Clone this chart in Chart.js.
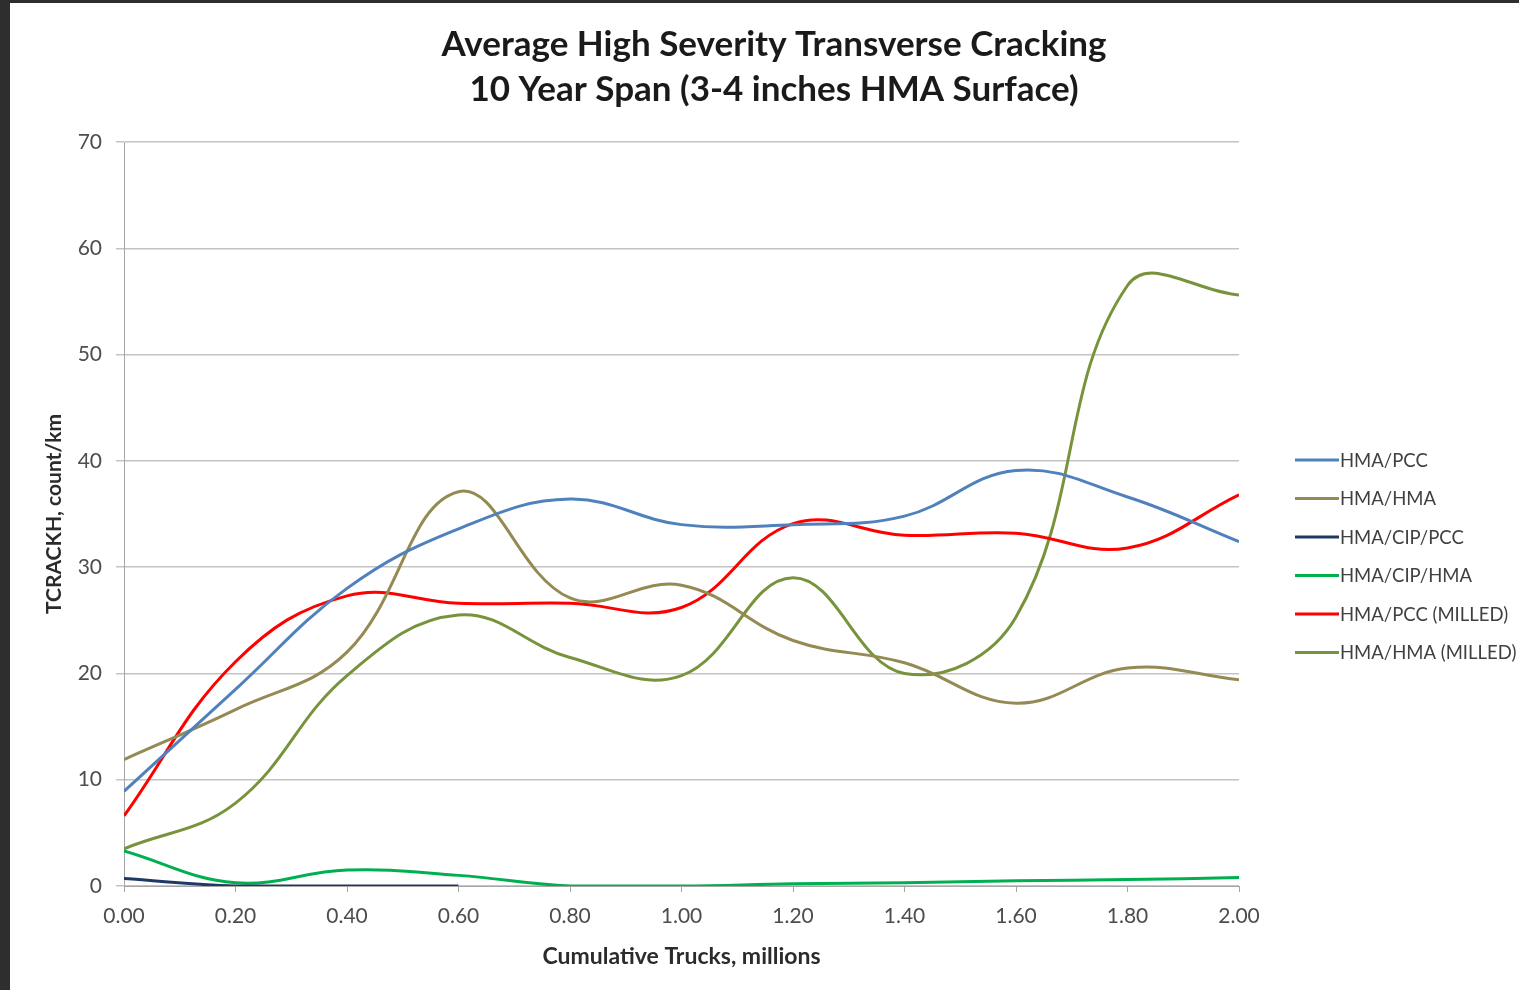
<!DOCTYPE html>
<html>
<head>
<meta charset="utf-8">
<script src="https://cdn.jsdelivr.net/npm/chart.js@4/dist/chart.umd.min.js"></script>
<style>
html,body{margin:0;padding:0;background:#fff;}
#wrap{position:absolute;left:0;top:0;width:1519px;height:990px;}
</style>
</head>
<body>
<div id="wrap"><canvas id="c" width="1519" height="990"></canvas></div>
<script>
const xValues = [0.0, 0.2, 0.4, 0.6, 0.8, 1.0, 1.2, 1.4, 1.6, 1.8, 2.0];
const xTickLabels = ['0.00','0.20','0.40','0.60','0.80','1.00','1.20','1.40','1.60','1.80','2.00'];
const yTickValues = [0, 10, 20, 30, 40, 50, 60, 70];
const seriesNames = ['HMA/PCC','HMA/HMA','HMA/CIP/PCC','HMA/CIP/HMA','HMA/PCC (MILLED)','HMA/HMA (MILLED)'];
const hmaPcc       = [8.9, 18.5, 28.0, 33.6, 36.4, 34.0, 34.0, 34.8, 39.1, 36.6, 32.4];
const hmaHma       = [11.9, 16.6, 22.0, 37.1, 27.1, 28.3, 23.1, 21.0, 17.2, 20.5, 19.4];
const hmaCipPcc    = [0.7, 0.0, 0.0, 0.0];
const hmaCipHma    = [3.3, 0.3, 1.5, 1.0, 0.0, 0.0, 0.2, 0.3, 0.5, 0.6, 0.8];
const hmaPccMilled = [6.6, 21.1, 27.3, 26.6, 26.6, 26.2, 34.1, 33.0, 33.2, 31.8, 36.8];
const hmaHmaMilled = [3.5, 7.8, 19.8, 25.5, 21.5, 19.8, 29.0, 20.0, 25.3, 56.5, 55.6];

const seriesValues = [hmaPcc, hmaHma, hmaCipPcc, hmaCipHma, hmaPccMilled, hmaHmaMilled];
const colors = ['#4F81BD', '#948A54', '#1F3864', '#00B050', '#FF0000', '#77933C'];

const datasets = seriesValues.map((vals, i) => ({
  label: seriesNames[i],
  data: vals.map((v, j) => ({x: xValues[j], y: v})),
  borderColor: colors[i],
  backgroundColor: colors[i],
  borderWidth: 3,
  pointRadius: 0,
  tension: 0.4,
  fill: false
}));

const frameAndTitle = {
  id: 'frameAndTitle',
  beforeDraw(chart) {
    const ctx = chart.ctx;
    ctx.save();
    ctx.fillStyle = '#ffffff';
    ctx.fillRect(0, 0, chart.width, chart.height);
    ctx.restore();
  },
  afterDraw(chart) {
    const ctx = chart.ctx;
    ctx.save();
    ctx.fillStyle = '#2e2e2e';
    ctx.fillRect(0, 0, 10, chart.height);
    ctx.fillRect(0, 0, chart.width, 3);
    ctx.fillStyle = '#1a1a1a';
    ctx.font = 'bold 35px Lato';
    ctx.textAlign = 'center';
    ctx.textBaseline = 'middle';
    ctx.fillText('Average High Severity Transverse Cracking', 774, 45);
    ctx.fillText('10 Year Span (3-4 inches HMA Surface)', 774, 90);
    ctx.font = '18.5px Lato';
    ctx.textAlign = 'left';
    chart.data.datasets.forEach((ds, i) => {
      const y = 460 + i * 38.5;
      ctx.strokeStyle = ds.borderColor;
      ctx.lineWidth = 3;
      ctx.beginPath();
      ctx.moveTo(1295, y);
      ctx.lineTo(1339, y);
      ctx.stroke();
      ctx.fillStyle = '#404040';
      ctx.fillText(ds.label, 1340, y + 1);
    });
    ctx.restore();
  }
};

new Chart(document.getElementById('c'), {
  type: 'line',
  data: { datasets },
  options: {
    responsive: false,
    animation: false,
    layout: { padding: { top: 142, right: 280, left: 0, bottom: 0 } },
    plugins: {
      legend: { display: false },
      title: { display: false },
      tooltip: { enabled: false }
    },
    scales: {
      x: {
        type: 'linear',
        min: 0, max: 2,
        afterBuildTicks(scale) { scale.ticks = xValues.map(v => ({value: v})); },
        afterFit(scale) { scale.height = 104; },
        ticks: {
          callback: (v, i) => xTickLabels[i],
          font: { family: 'Lato', size: 21 },
          color: '#4d4d4d',
          padding: 12,
          maxRotation: 0,
          autoSkip: false
        },
        grid: { drawOnChartArea: false, drawTicks: true, tickLength: 6, color: '#a6a6a6' },
        border: { color: '#a6a6a6', width: 1 },
        title: {
          display: true,
          text: 'Cumulative Trucks, millions',
          font: { family: 'Lato', size: 23, weight: 'bold' },
          color: '#2b2b2b',
          padding: { top: 0, bottom: 20 }
        }
      },
      y: {
        min: 0, max: 70,
        afterBuildTicks(scale) { scale.ticks = yTickValues.map(v => ({value: v})); },
        afterFit(scale) { scale.width = 124; },
        ticks: {
          font: { family: 'Lato', size: 21 },
          color: '#4d4d4d',
          padding: 14
        },
        grid: { color: '#c4c4c4', lineWidth: 1.5, tickLength: 8 },
        border: { color: '#a6a6a6', width: 1 },
        title: {
          display: true,
          text: 'TCRACKH, count/km',
          font: { family: 'Lato', size: 21, weight: 'bold' },
          color: '#2b2b2b',
          padding: { top: 42, bottom: 0 }
        }
      }
    }
  },
  plugins: [frameAndTitle]
});
</script>
</body>
</html>
